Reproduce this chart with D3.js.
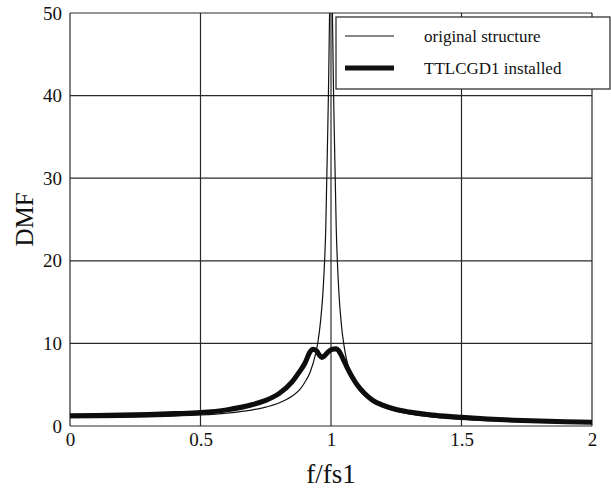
<!DOCTYPE html>
<html>
<head>
<meta charset="utf-8">
<script src="https://cdn.jsdelivr.net/npm/d3@7"></script>
<style>
  body { margin: 0; background: #fff; }
  svg, svg text { font-family: "Liberation Serif", "DejaVu Serif", serif; }
</style>
</head>
<body>
<div id="chart"></div>
<script>
// frequency ratio samples
var fOrig = [0, 0.1, 0.2, 0.3, 0.4, 0.5, 0.6, 0.7, 0.75, 0.8, 0.85, 0.88, 0.9, 0.92, 0.94, 0.95, 0.96, 0.97, 0.98, 0.99, 1.0, 1.01, 1.02, 1.03, 1.04, 1.05, 1.06, 1.08, 1.1, 1.15, 1.2, 1.3, 1.4, 1.5, 1.6, 1.7, 1.8, 1.9, 2.0];
var dmfOrig = [1.0, 1.01, 1.04, 1.1, 1.19, 1.33, 1.56, 1.96, 2.29, 2.78, 3.6, 4.4, 5.3, 6.5, 8.6, 10.2, 12.7, 16.6, 24, 40, 58, 40, 24, 16.3, 12.2, 9.7, 8.0, 6.0, 4.8, 3.1, 2.3, 1.45, 1.04, 0.8, 0.64, 0.53, 0.45, 0.38, 0.33];

var fTmd = [0, 0.1, 0.2, 0.3, 0.4, 0.5, 0.6, 0.7, 0.75, 0.8, 0.85, 0.88, 0.9, 0.92, 0.93, 0.945, 0.955, 0.965, 0.975, 0.99, 1.005, 1.02, 1.03, 1.045, 1.06, 1.08, 1.1, 1.13, 1.16, 1.2, 1.25, 1.3, 1.4, 1.5, 1.6, 1.7, 1.8, 1.9, 2.0];
var dmfTmd = [1.25, 1.28, 1.33, 1.4, 1.5, 1.63, 1.95, 2.6, 3.1, 3.9, 5.3, 6.6, 7.6, 9.0, 9.3, 9.1, 8.6, 8.3, 8.5, 9.0, 9.3, 9.35, 9.1, 8.2, 7.2, 6.0, 5.0, 3.9, 3.1, 2.5, 2.0, 1.7, 1.3, 1.05, 0.85, 0.7, 0.6, 0.5, 0.45];

var xTicks = [0, 0.5, 1, 1.5, 2];
var yTicks = [0, 10, 20, 30, 40, 50];
var legendLabels = ['original structure', 'TTLCGD1 installed'];

var FONT = '"Liberation Serif", "DejaVu Serif", serif';
var W = 611, H = 490;
var margin = {left: 70, top: 13, right: 19, bottom: 64};
var iw = W - margin.left - margin.right;
var ih = H - margin.top - margin.bottom;

var svg = d3.select('#chart').append('svg')
    .attr('width', W)
    .attr('height', H);

var x = d3.scaleLinear().domain([0, 2]).range([0, iw]);
var y = d3.scaleLinear().domain([0, 50]).range([ih, 0]);

svg.append('defs').append('clipPath').attr('id', 'clip')
  .append('rect').attr('width', iw).attr('height', ih);

var g = svg.append('g').attr('transform', 'translate(' + margin.left + ',' + margin.top + ')');

// grid (also makes the frame)
g.append('g')
    .selectAll('line').data(xTicks).enter().append('line')
    .attr('x1', d => x(d)).attr('x2', d => x(d))
    .attr('y1', 0).attr('y2', ih)
    .attr('stroke', '#2a2a2a').attr('stroke-width', 1.2);
g.append('g')
    .selectAll('line').data(yTicks).enter().append('line')
    .attr('x1', 0).attr('x2', iw)
    .attr('y1', d => y(d)).attr('y2', d => y(d))
    .attr('stroke', '#2a2a2a').attr('stroke-width', 1.2);

// axes, labels only
var xAxis = g.append('g').attr('transform', 'translate(0,' + ih + ')')
    .call(d3.axisBottom(x).tickValues(xTicks).tickSize(0).tickPadding(7).tickFormat(d3.format('')));
var yAxis = g.append('g')
    .call(d3.axisLeft(y).tickValues(yTicks).tickSize(0).tickPadding(8));
[xAxis, yAxis].forEach(function (a) {
  a.attr('font-family', null).attr('font-size', null);
  a.select('.domain').remove();
  a.selectAll('text')
    .style('font-family', FONT)
    .style('font-size', '19px')
    .attr('fill', '#111');
});
yAxis.selectAll('text').attr('dy', '0.32em');

var line = d3.line()
    .x(d => x(d[0]))
    .y(d => y(d[1]))
    .curve(d3.curveMonotoneX);

var plot = g.append('g').attr('clip-path', 'url(#clip)');
plot.append('path')
    .datum(d3.zip(fOrig, dmfOrig))
    .attr('fill', 'none').attr('stroke', '#111').attr('stroke-width', 1.2)
    .attr('d', line);
plot.append('path')
    .datum(d3.zip(fTmd, dmfTmd))
    .attr('fill', 'none').attr('stroke', '#0d0d0d').attr('stroke-width', 5)
    .attr('stroke-linejoin', 'round')
    .attr('d', line);

// axis titles
svg.append('text')
    .attr('x', margin.left + iw / 2).attr('y', 483)
    .attr('text-anchor', 'middle')
    .style('font-family', FONT).style('font-size', '27px')
    .attr('fill', '#111')
    .text('f/fs1');
svg.append('text')
    .attr('transform', 'translate(33,' + (margin.top + ih / 2) + ') rotate(-90)')
    .attr('text-anchor', 'middle')
    .style('font-family', FONT).style('font-size', '25px')
    .attr('fill', '#111')
    .text('DMF');

// legend
var leg = svg.append('g').attr('transform', 'translate(336,17)');
leg.append('rect')
    .attr('width', 274).attr('height', 72)
    .attr('fill', '#fff').attr('stroke', '#222').attr('stroke-width', 1.2);
var rows = leg.selectAll('g.row').data(legendLabels).enter().append('g')
    .attr('class', 'row')
    .attr('transform', (d, i) => 'translate(0,' + (19 + i * 32) + ')');
rows.append('line')
    .attr('x1', 9).attr('x2', 58)
    .attr('stroke', '#111')
    .attr('stroke-width', (d, i) => i === 0 ? 1.2 : 5);
rows.append('text')
    .attr('x', 88).attr('y', 6)
    .style('font-family', FONT).style('font-size', '17px')
    .attr('fill', '#111')
    .text(d => d);
</script>
</body>
</html>
